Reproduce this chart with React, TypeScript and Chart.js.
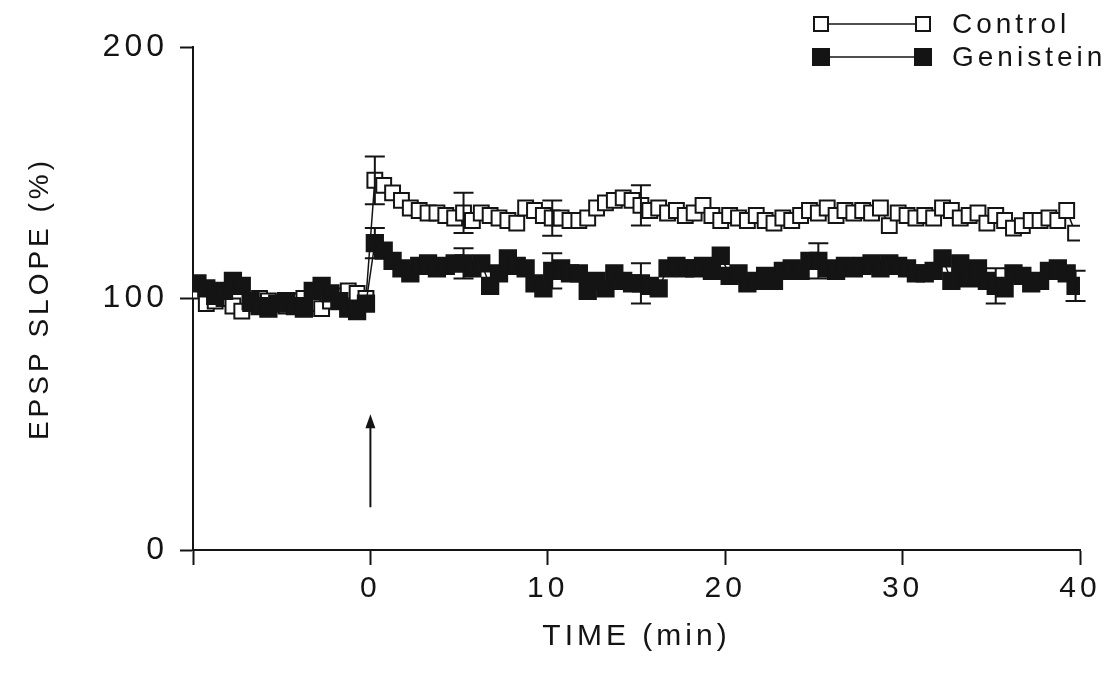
import React, { useEffect, useRef } from 'react';
import { Chart, registerables } from 'chart.js';

Chart.register(...registerables);

// ---- Data ----
const times = [
  -9.75, -9.25, -8.75, -8.25, -7.75, -7.25, -6.75, -6.25, -5.75, -5.25,
  -4.75, -4.25, -3.75, -3.25, -2.75, -2.25, -1.75, -1.25, -0.75, -0.25,
  0.25, 0.75, 1.25, 1.75, 2.25, 2.75, 3.25, 3.75, 4.25, 4.75,
  5.25, 5.75, 6.25, 6.75, 7.25, 7.75, 8.25, 8.75, 9.25, 9.75,
  10.25, 10.75, 11.25, 11.75, 12.25, 12.75, 13.25, 13.75, 14.25, 14.75,
  15.25, 15.75, 16.25, 16.75, 17.25, 17.75, 18.25, 18.75, 19.25, 19.75,
  20.25, 20.75, 21.25, 21.75, 22.25, 22.75, 23.25, 23.75, 24.25, 24.75,
  25.25, 25.75, 26.25, 26.75, 27.25, 27.75, 28.25, 28.75, 29.25, 29.75,
  30.25, 30.75, 31.25, 31.75, 32.25, 32.75, 33.25, 33.75, 34.25, 34.75,
  35.25, 35.75, 36.25, 36.75, 37.25, 37.75, 38.25, 38.75, 39.25, 39.75,
];

const controlValues = [
  103, 98, 99, 100, 97, 95, 98, 100, 99, 98,
  97, 99, 100, 98, 96, 99, 101, 103, 102, 100,
  147, 145, 142, 139, 136, 135, 134, 134, 133, 132,
  134, 131, 134, 133, 132, 131, 130, 136, 135, 133,
  132, 132, 131, 131, 132, 136, 138, 139, 140, 139,
  137, 135, 136, 134, 135, 133, 134, 137, 133, 131,
  133, 132, 131, 133, 131, 130, 132, 131, 133, 135,
  134, 136, 133, 135, 134, 135, 134, 136, 129, 134,
  133, 132, 133, 132, 136, 135, 132, 133, 134, 130,
  133, 131, 128, 129, 131, 131, 132, 131, 135, 126,
];

const genisteinValues = [
  106, 104, 101, 103, 107, 105, 99, 97, 96, 98,
  99, 97, 96, 103, 105, 102, 99, 96, 95, 98,
  122, 119, 115, 112, 110, 113, 114, 112, 113, 114,
  114, 112, 114, 105, 110, 116, 113, 112, 106, 104,
  111, 112, 110, 110, 103, 107, 104, 110, 107, 106,
  106, 105, 104, 112, 113, 112, 112, 113, 111, 117,
  109, 110, 106, 107, 109, 107, 111, 112, 111, 115,
  115, 112, 111, 113, 112, 113, 114, 112, 114, 113,
  112, 110, 110, 111, 116, 107, 114, 108, 112, 107,
  105, 104, 110, 109, 106, 107, 111, 112, 110, 105,
];

const controlErrTimes = [0.25, 5.25, 10.25, 15.25];
const controlErrSem = [9.5, 8, 7, 8];
const genisteinErrTimes = [0.25, 5.25, 10.25, 15.25, 25.25, 35.25, 39.75];
const genisteinErrSem = [6, 6, 7, 8, 7, 7, 6];

const xTickValues = [-10, 0, 10, 20, 30, 40];
const yTickValues = [0, 100, 200];
const seriesLabels = ['Genistein', 'Control'];

const arrowTime = 0;
const arrowBase = 17;
const arrowTip = 54;

const INK = '#141414';
const FONT = '"Liberation Sans", Arial, Helvetica, sans-serif';

const letterSpacingPlugin = {
  id: 'letterSpacing',
  beforeDraw(chart: any) {
    (chart.ctx as any).letterSpacing = '4px';
  },
};

const errorBarPlugin = {
  id: 'errorBars',
  afterDatasetsDraw(chart: any) {
    const { ctx, scales } = chart;
    const xs = scales.x;
    const ys = scales.y;
    const sets = [
      { t: controlErrTimes, s: controlErrSem, v: controlValues },
      { t: genisteinErrTimes, s: genisteinErrSem, v: genisteinValues },
    ];
    ctx.save();
    ctx.strokeStyle = INK;
    ctx.lineWidth = 2;
    sets.forEach((set) => {
      set.t.forEach((t, i) => {
        const idx = times.indexOf(t);
        if (idx < 0) return;
        const val = set.v[idx];
        const px = xs.getPixelForValue(t);
        const top = ys.getPixelForValue(val + set.s[i]);
        const bot = ys.getPixelForValue(val - set.s[i]);
        ctx.beginPath();
        ctx.moveTo(px, top);
        ctx.lineTo(px, bot);
        ctx.moveTo(px - 10, top);
        ctx.lineTo(px + 10, top);
        ctx.moveTo(px - 10, bot);
        ctx.lineTo(px + 10, bot);
        ctx.stroke();
      });
    });
    ctx.restore();
  },
};

const arrowPlugin = {
  id: 'stimArrow',
  afterDraw(chart: any) {
    const { ctx, scales } = chart;
    const px = scales.x.getPixelForValue(arrowTime);
    const yb = scales.y.getPixelForValue(arrowBase);
    const yt = scales.y.getPixelForValue(arrowTip);
    ctx.save();
    ctx.strokeStyle = INK;
    ctx.fillStyle = INK;
    ctx.lineWidth = 2;
    ctx.beginPath();
    ctx.moveTo(px, yb);
    ctx.lineTo(px, yt + 10);
    ctx.stroke();
    ctx.beginPath();
    ctx.moveTo(px, yt);
    ctx.lineTo(px - 5, yt + 14);
    ctx.lineTo(px + 5, yt + 14);
    ctx.closePath();
    ctx.fill();
    ctx.restore();
  },
};

const legendPlugin = {
  id: 'customLegend',
  afterDraw(chart: any) {
    const { ctx } = chart;
    const rows = [
      { ds: 1, y: 24, size: 14 },
      { ds: 0, y: 57, size: 16 },
    ];
    ctx.save();
    (ctx as any).letterSpacing = '4px';
    rows.forEach((r) => {
      const ds = chart.data.datasets[r.ds];
      const x1 = 821;
      const x2 = 923;
      ctx.strokeStyle = INK;
      ctx.lineWidth = 1.5;
      ctx.beginPath();
      ctx.moveTo(x1, r.y);
      ctx.lineTo(x2, r.y);
      ctx.stroke();
      [x1, x2].forEach((cx) => {
        ctx.fillStyle = ds.pointBackgroundColor;
        ctx.fillRect(cx - r.size / 2, r.y - r.size / 2, r.size, r.size);
        ctx.lineWidth = 2;
        ctx.strokeRect(cx - r.size / 2, r.y - r.size / 2, r.size, r.size);
      });
      ctx.fillStyle = INK;
      ctx.font = `28px ${FONT}`;
      ctx.textBaseline = 'middle';
      ctx.textAlign = 'left';
      ctx.fillText(ds.label, 952, r.y + 1);
    });
    ctx.restore();
  },
};

export default function App() {
  const canvasRef = useRef<HTMLCanvasElement | null>(null);

  useEffect(() => {
    if (!canvasRef.current) return;
    const chart = new Chart(canvasRef.current, {
      type: 'line',
      data: {
        datasets: [
          {
            label: seriesLabels[0],
            data: times.map((t, i) => ({ x: t, y: genisteinValues[i] })),
            borderColor: INK,
            borderWidth: 1.5,
            pointStyle: 'rect',
            pointRadius: 11.5,
            pointBorderWidth: 2,
            pointBackgroundColor: INK,
            pointBorderColor: INK,
            tension: 0,
            fill: false,
          },
          {
            label: seriesLabels[1],
            data: times.map((t, i) => ({ x: t, y: controlValues[i] })),
            borderColor: INK,
            borderWidth: 1.5,
            pointStyle: 'rect',
            pointRadius: 10.5,
            pointBorderWidth: 2,
            pointBackgroundColor: '#ffffff',
            pointBorderColor: INK,
            tension: 0,
            fill: false,
          },
        ],
      },
      options: {
        animation: false,
        responsive: false,
        maintainAspectRatio: false,
        layout: { padding: { left: 0, right: 31, top: 47, bottom: 0 } },
        plugins: {
          legend: { display: false },
          tooltip: { enabled: false },
        },
        scales: {
          x: {
            type: 'linear',
            min: -10,
            max: 40,
            afterBuildTicks: (s: any) => {
              s.ticks = xTickValues.map((v) => ({ value: v }));
            },
            afterFit: (s: any) => {
              s.height = 123;
            },
            ticks: {
              autoSkip: false,
              maxRotation: 0,
              color: INK,
              padding: 6,
              font: { family: FONT, size: 30 },
              callback: (v: any) => (v === -10 ? '' : String(v)),
            },
            grid: {
              drawOnChartArea: false,
              drawTicks: true,
              tickLength: 15,
              tickColor: INK,
              tickWidth: 2,
            },
            border: { display: true, color: INK, width: 2 },
            title: {
              display: true,
              text: 'TIME (min)',
              color: INK,
              font: { family: FONT, size: 30 },
              padding: { top: 0, bottom: 18 },
            },
          },
          y: {
            type: 'linear',
            min: 0,
            max: 200,
            afterBuildTicks: (s: any) => {
              s.ticks = yTickValues.map((v) => ({ value: v }));
            },
            afterFit: (s: any) => {
              s.width = 193;
            },
            ticks: {
              color: INK,
              padding: 12,
              font: { family: FONT, size: 32 },
            },
            grid: {
              drawOnChartArea: false,
              drawTicks: true,
              tickLength: 13,
              tickColor: INK,
              tickWidth: 2,
            },
            border: { display: true, color: INK, width: 2 },
            title: {
              display: true,
              text: 'EPSP SLOPE (%)',
              color: INK,
              font: { family: FONT, size: 28 },
              padding: { top: 23, bottom: 0 },
            },
          },
        },
      },
      plugins: [letterSpacingPlugin, errorBarPlugin, arrowPlugin, legendPlugin],
    } as any);
    return () => chart.destroy();
  }, []);

  return (
    <div style={{ position: 'fixed', left: 0, top: 0, width: 1111, height: 673, background: '#fff' }}>
      <canvas ref={canvasRef} width={1111} height={673} style={{ display: 'block' }} />
    </div>
  );
}
